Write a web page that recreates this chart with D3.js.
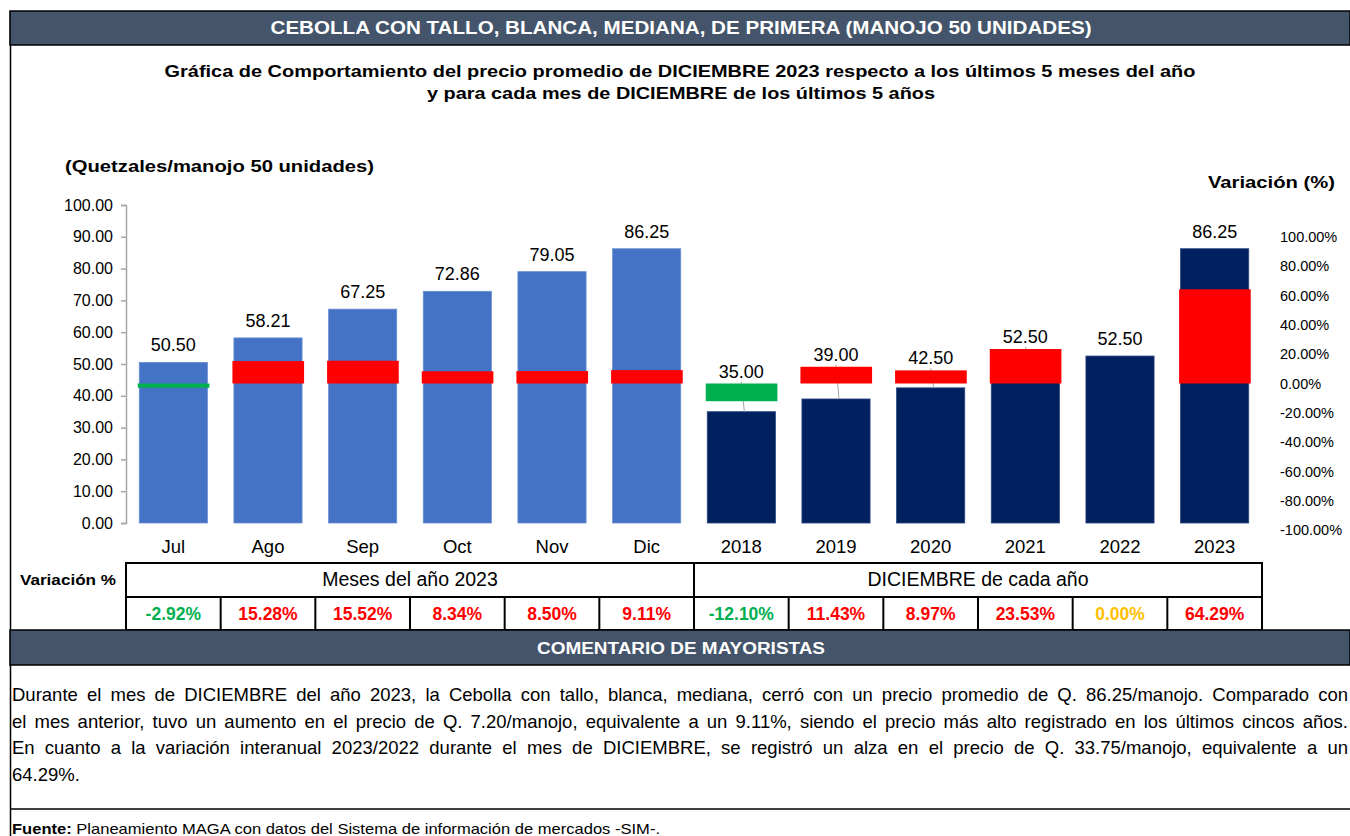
<!DOCTYPE html>
<html>
<head>
<meta charset="utf-8">
<script src="https://cdn.jsdelivr.net/npm/d3@7"></script>
<style>
  body { margin: 0; background: #fff; }
  svg { display: block; font-family: "Liberation Sans", Arial, sans-serif; }
</style>
</head>
<body>
<svg id="chart" width="1350" height="836"></svg>
<script>
// categories and values
const categories = ["Jul", "Ago", "Sep", "Oct", "Nov", "Dic", "2018", "2019", "2020", "2021", "2022", "2023"];
const precios = [50.50, 58.21, 67.25, 72.86, 79.05, 86.25, 35.00, 39.00, 42.50, 52.50, 52.50, 86.25];
const variaciones = [-2.92, 15.28, 15.52, 8.34, 8.50, 9.11, -12.10, 11.43, 8.97, 23.53, 0.00, 64.29];
const grupos = ["mes", "mes", "mes", "mes", "mes", "mes", "anio", "anio", "anio", "anio", "anio", "anio"];
const leftTicks = [0, 10, 20, 30, 40, 50, 60, 70, 80, 90, 100];
const rightTicks = [-100, -80, -60, -40, -20, 0, 20, 40, 60, 80, 100];
const grupoTitulos = ["Meses del año 2023", "DICIEMBRE de cada año"];

const comentario = [
  "Durante el mes de DICIEMBRE del año 2023, la Cebolla con tallo, blanca, mediana, cerró con un precio promedio de Q. 86.25/manojo. Comparado con",
  "el mes anterior, tuvo un aumento en el precio de Q. 7.20/manojo, equivalente a un 9.11%, siendo el precio más alto registrado en los últimos cincos años.",
  "En cuanto a la variación interanual 2023/2022 durante el mes de DICIEMBRE, se registró un alza en el precio de Q. 33.75/manojo, equivalente a un",
  "64.29%."
];

const data = categories.map((c, i) => ({ cat: c, precio: precios[i], vari: variaciones[i], grupo: grupos[i] }));

// plain hyphen for negatives, like the original
const locale = d3.formatLocale({ decimal: ".", thousands: ",", grouping: [3], currency: ["", ""], minus: "-" });
const f2 = locale.format(".2f");

let chart = d3.select("#chart");
const W = 1350;

// fit a text to a width by stretching / squeezing the glyphs
function fitWidth(sel, w) {
  sel.attr("textLength", w).attr("lengthAdjust", "spacingAndGlyphs");
}

// ---- frame ----
chart.append("line").attr("x1", 10.5).attr("x2", 10.5).attr("y1", 11).attr("y2", 836)
  .attr("stroke", "#000").attr("stroke-width", 1.5);

// header band
chart.append("rect").attr("x", 10).attr("y", 11).attr("width", W - 10).attr("height", 34)
  .attr("fill", "#44546A").attr("stroke", "#000").attr("stroke-width", 1.5);
chart.append("text")
  .text("CEBOLLA CON TALLO, BLANCA, MEDIANA, DE PRIMERA (MANOJO 50 UNIDADES)")
  .attr("x", 681).attr("y", 34)
  .attr("text-anchor", "middle").attr("fill", "#fff")
  .attr("font-weight", "bold").attr("font-size", 18)
  .call(fitWidth, 821);

// subtitles
chart.append("text")
  .text("Gráfica de Comportamiento del precio promedio de DICIEMBRE 2023 respecto a los últimos 5 meses del año")
  .attr("x", 680).attr("y", 77)
  .attr("text-anchor", "middle").attr("font-weight", "bold").attr("font-size", 16.5)
  .call(fitWidth, 1031);
chart.append("text")
  .text("y para cada mes de DICIEMBRE de los últimos 5 años")
  .attr("x", 681).attr("y", 99)
  .attr("text-anchor", "middle").attr("font-weight", "bold").attr("font-size", 16.5)
  .call(fitWidth, 508);

chart.append("text")
  .text("(Quetzales/manojo 50 unidades)")
  .attr("x", 65).attr("y", 172)
  .attr("font-weight", "bold").attr("font-size", 16.5)
  .call(fitWidth, 309);
chart.append("text")
  .text("Variación (%)")
  .attr("x", 1208).attr("y", 188)
  .attr("font-weight", "bold").attr("font-size", 16.5)
  .call(fitWidth, 127);

// ---- scales ----
let x = d3.scaleBand()
  .domain(categories)
  .range([126, 1262])
  .paddingInner(0.28)
  .paddingOuter(0.14);

let y = d3.scaleLinear().domain([0, 100]).range([523, 205]);
let y2 = d3.scaleLinear().domain([-100, 100]).range([530, 237]);

// left axis
let yAxis = d3.axisLeft(y).tickValues(leftTicks).tickFormat(f2).tickSize(5).tickPadding(8);
let yAxisGroup = chart.append("g")
  .attr("transform", "translate(126,0)")
  .call(yAxis);
yAxisGroup.select(".domain").attr("stroke", "#A6A6A6").attr("stroke-width", 1.5);
yAxisGroup.selectAll(".tick line").attr("stroke", "#A6A6A6").attr("stroke-width", 1.5);
yAxisGroup.selectAll(".tick text")
  .attr("font-family", "Liberation Sans, Arial, sans-serif")
  .attr("font-size", 16).attr("fill", "#000");

// right axis (labels only)
let y2Axis = d3.axisRight(y2).tickValues(rightTicks).tickFormat(d => f2(d) + "%").tickSize(0).tickPadding(0);
let y2AxisGroup = chart.append("g")
  .attr("transform", "translate(1280,0)")
  .call(y2Axis);
y2AxisGroup.select(".domain").remove();
y2AxisGroup.selectAll(".tick text")
  .attr("font-family", "Liberation Sans, Arial, sans-serif")
  .attr("font-size", 14.5).attr("fill", "#000");

// category labels
chart.selectAll(".cat-label")
  .data(data)
  .enter().append("text")
  .attr("class", "cat-label")
  .text(d => d.cat)
  .attr("x", d => x(d.cat) + x.bandwidth() / 2)
  .attr("y", 553)
  .attr("text-anchor", "middle")
  .attr("font-size", 18.5);

// ---- bars ----
chart.selectAll(".bar")
  .data(data)
  .enter().append("rect")
  .attr("class", "bar")
  .attr("x", d => x(d.cat))
  .attr("width", x.bandwidth())
  .attr("y", d => y(d.precio))
  .attr("height", d => y(0) - y(d.precio))
  .attr("fill", d => d.grupo === "mes" ? "#4472C4" : "#002060")
  .attr("stroke", d => d.grupo === "mes" ? "#6C90D2" : "#2A4580")
  .attr("stroke-width", 0.8);

// label positions: lift the label over the variation bar when the two would overlap
data.forEach(d => {
  const barTop = y(d.precio);
  const varTop = Math.min(y2(0), y2(d.vari));
  const varBottom = Math.max(y2(0), y2(d.vari));
  const overlap = d.vari !== 0 && varTop < barTop - 0.5 && varBottom > barTop - 28;
  if (overlap) {
    d.labelY = varTop - 6;
    d.leader = true;
  } else {
    d.labelY = barTop - 11;
    d.leader = false;
  }
});

// leader lines
chart.selectAll(".leader")
  .data(data.filter(d => d.leader))
  .enter().append("line")
  .attr("class", "leader")
  .attr("x1", d => x(d.cat) + x.bandwidth() / 2)
  .attr("x2", d => x(d.cat) + x.bandwidth() / 2 + 3)
  .attr("y1", d => d.labelY + 4)
  .attr("y2", d => y(d.precio))
  .attr("stroke", "#A6A6A6").attr("stroke-width", 1);

// variation bars (secondary axis)
chart.selectAll(".varbar")
  .data(data)
  .enter().append("rect")
  .attr("class", "varbar")
  .attr("x", d => x(d.cat) - 1.5)
  .attr("width", x.bandwidth() + 3.5)
  .attr("y", d => Math.min(y2(0), y2(d.vari)))
  .attr("height", d => Math.abs(y2(d.vari) - y2(0)))
  .attr("fill", d => d.vari < 0 ? "#00B050" : "#FF0000");

// value labels
chart.selectAll(".val-label")
  .data(data)
  .enter().append("text")
  .attr("class", "val-label")
  .text(d => f2(d.precio))
  .attr("x", d => x(d.cat) + x.bandwidth() / 2)
  .attr("y", d => d.labelY)
  .attr("text-anchor", "middle")
  .attr("font-size", 18);

// ---- table ----
const tLeft = x(categories[0]) - x.step() * 0.14;
const tStep = x.step();
const tRight = tLeft + tStep * categories.length;
const tTop = 563, tMid = 597, tBot = 630;

chart.append("text")
  .text("Variación %")
  .attr("x", 20).attr("y", 585)
  .attr("font-weight", "bold").attr("font-size", 15)
  .call(fitWidth, 96);

let table = chart.append("g").attr("stroke", "#000").attr("stroke-width", 2);
table.append("rect").attr("x", tLeft).attr("y", tTop).attr("width", tRight - tLeft).attr("height", tBot - tTop).attr("fill", "none");
table.append("line").attr("x1", tLeft).attr("x2", tRight).attr("y1", tMid).attr("y2", tMid);
table.append("line").attr("x1", tLeft + tStep * 6).attr("x2", tLeft + tStep * 6).attr("y1", tTop).attr("y2", tBot);
d3.range(1, categories.length).forEach(i => {
  table.append("line").attr("x1", tLeft + tStep * i).attr("x2", tLeft + tStep * i).attr("y1", tMid).attr("y2", tBot);
});

grupoTitulos.forEach((t, i) => {
  chart.append("text")
    .text(t)
    .attr("x", tLeft + tStep * (3 + 6 * i))
    .attr("y", 586)
    .attr("text-anchor", "middle")
    .attr("font-size", 19.5);
});

chart.selectAll(".var-cell")
  .data(data)
  .enter().append("text")
  .attr("class", "var-cell")
  .text(d => f2(d.vari) + "%")
  .attr("x", (d, i) => tLeft + tStep * (i + 0.5))
  .attr("y", 620)
  .attr("text-anchor", "middle")
  .attr("font-weight", "bold").attr("font-size", 17.5)
  .attr("fill", d => d.vari < 0 ? "#00B050" : (d.vari === 0 ? "#FFC000" : "#FF0000"));

// ---- comentario ----
chart.append("rect").attr("x", 10).attr("y", 630).attr("width", W - 10).attr("height", 35)
  .attr("fill", "#44546A").attr("stroke", "#000").attr("stroke-width", 1.5);
chart.append("text")
  .text("COMENTARIO DE MAYORISTAS")
  .attr("x", 681).attr("y", 654)
  .attr("text-anchor", "middle").attr("fill", "#fff")
  .attr("font-weight", "bold").attr("font-size", 16)
  .call(fitWidth, 288);

// justified paragraph
comentario.forEach((line, i) => {
  let t = chart.append("text")
    .text(line)
    .attr("x", 12).attr("y", 701 + i * 26.5)
    .attr("font-size", 18.5);
  if (i < comentario.length - 1) {
    const target = 1336;
    let len = t.node().getComputedTextLength();
    const spaces = (line.match(/ /g) || []).length;
    if (len > target) {
      t.call(fitWidth, target);
    } else {
      t.attr("word-spacing", (target - len) / spaces);
    }
  }
});

chart.append("line").attr("x1", 10).attr("x2", W).attr("y1", 809).attr("y2", 809)
  .attr("stroke", "#000").attr("stroke-width", 1.5);

let fuente = chart.append("text").attr("x", 12).attr("y", 834).attr("font-size", 15)
  .call(fitWidth, 648);
fuente.append("tspan").text("Fuente:").attr("font-weight", "bold");
fuente.append("tspan").text(" Planeamiento MAGA con datos del Sistema de información de mercados -SIM-.");
</script>
</body>
</html>
